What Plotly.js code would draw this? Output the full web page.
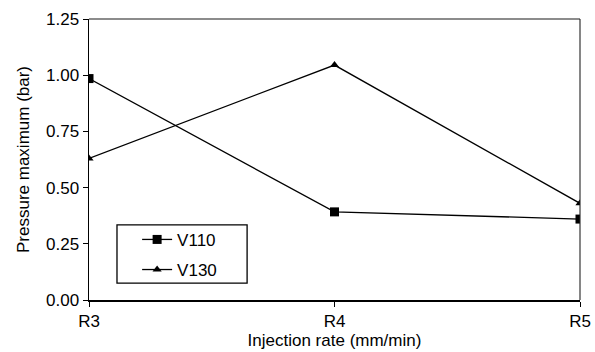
<!DOCTYPE html>
<html><head><meta charset="utf-8">
<script src="https://cdn.plot.ly/plotly-3.0.1.min.js"></script>
<style>body{margin:0;background:#fff}#c{width:595px;height:352px}</style>
</head><body><div id="c"></div>
<script>
const categories = ["R3", "R4", "R5"];
const v110 = [0.985, 0.392, 0.36];
const v130 = [0.63, 1.045, 0.43];
const yTicks = [0, 0.25, 0.5, 0.75, 1.0, 1.25];
const yTickText = ["0.00", "0.25", "0.50", "0.75", "1.00", "1.25"];

const fam = "Liberation Sans, Arial, sans-serif";
const fs = 17;
const traces = [
  {x: categories, y: v110, name: "V110", legendgroup: "a", mode: "lines+markers",
   line: {color: "#000", width: 1.3}, marker: {symbol: "square", size: 9, color: "#000"}},
  {x: categories, y: v130, name: "V130", legendgroup: "b", mode: "lines+markers",
   line: {color: "#000", width: 1.3}, marker: {symbol: "triangle-up", size: 8, color: "#000"}}
];
const layout = {
  width: 595, height: 352,
  margin: {l: 89, r: 15, t: 19, b: 52},
  paper_bgcolor: "#fff", plot_bgcolor: "#fff",
  font: {family: fam, size: fs, color: "#000"},
  showlegend: true,
  legend: {x: 0.098, y: 0.278, xanchor: "left", yanchor: "top",
    bgcolor: "rgba(0,0,0,0)", borderwidth: 0, traceorder: "grouped", tracegroupgap: 5,
    font: {family: fam, size: fs, color: "#000"}},
  xaxis: {type: "category", range: [0, 2], showgrid: false, zeroline: false,
    showline: true, linecolor: "#000", linewidth: 1.5,
    ticks: "outside", ticklen: 5, tickcolor: "#000", tickwidth: 1,
    tickfont: {family: fam, size: fs, color: "#000"},
    title: {text: "Injection rate (mm/min)", font: {family: fam, size: fs, color: "#000"}, standoff: 0}},
  yaxis: {range: [0, 1.25], tickvals: yTicks, ticktext: yTickText, showgrid: false, zeroline: false,
    showline: true, linecolor: "#000", linewidth: 1.5,
    ticks: "outside", ticklen: 5, tickcolor: "#000", tickwidth: 1,
    tickfont: {family: fam, size: fs, color: "#000"},
    title: {text: "Pressure maximum (bar)", font: {family: fam, size: fs, color: "#000"}, standoff: 12}},
  yaxis2: {overlaying: "y", side: "left", range: [0, 1.25], tickvals: yTicks, showticklabels: false,
    showgrid: false, zeroline: false, showline: false,
    ticks: "inside", ticklen: 5, tickcolor: "#000", tickwidth: 1},
  shapes: [
    {type: "line", xref: "paper", yref: "paper", x0: 0, x1: 1, y0: 1, y1: 1, line: {color: "#666", width: 1.3}},
    {type: "line", xref: "paper", yref: "paper", x0: 1, x1: 1, y0: 0, y1: 1, line: {color: "#222", width: 1.1}},
    {type: "rect", xref: "paper", yref: "paper", x0: 0.057, x1: 0.322, y0: 0.060, y1: 0.267,
     line: {color: "#000", width: 1.3}, fillcolor: "#fff", layer: "above"}
  ]
};
Plotly.newPlot("c", traces, layout, {displayModeBar: false, staticPlot: true});
</script></body></html>
